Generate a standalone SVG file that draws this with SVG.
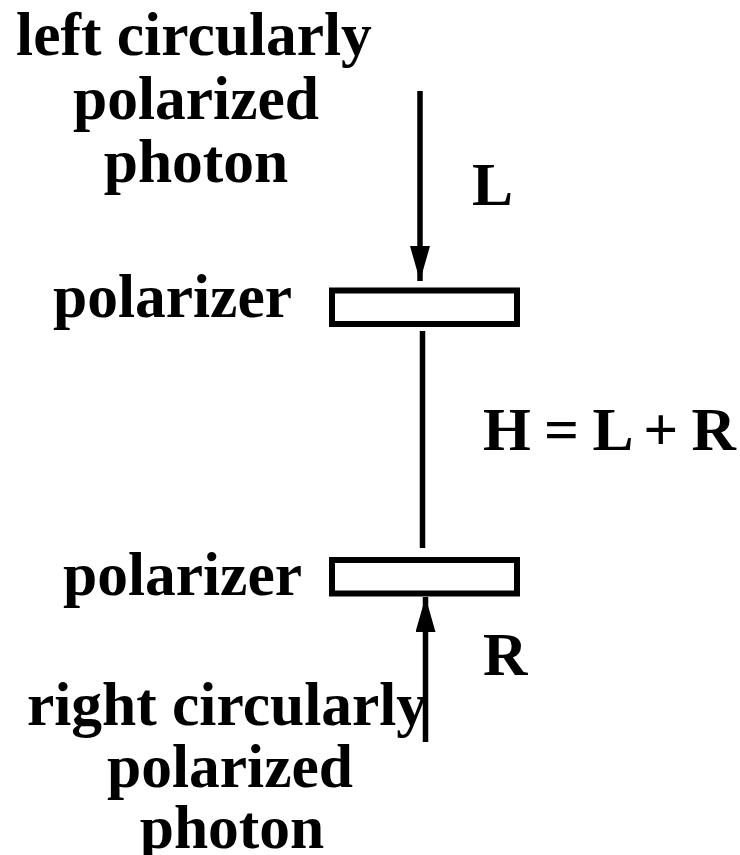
<svg xmlns="http://www.w3.org/2000/svg" width="740" height="855" viewBox="0 0 740 855">
<style>
text{font-family:"Liberation Serif","Times New Roman",serif;font-weight:bold;font-size:61.5px;fill:#000}
.c{text-anchor:middle}
.e{text-anchor:end}
.box{fill:#fff;stroke:#000;stroke-width:6}
.ln{stroke:#000;stroke-width:5.5;fill:none}
</style>
<defs>
<marker id="ah" markerUnits="userSpaceOnUse" markerWidth="36" markerHeight="20" refX="35" refY="10" orient="auto" viewBox="0 0 36 20">
<path d="M0,0 L35,10 L0,20 z" fill="#000"/>
</marker>
</defs>
<rect width="740" height="855" fill="#fff"/>
<g id="connectors">
<line class="ln" x1="420" y1="91" x2="420" y2="281" marker-end="url(#ah)"/>
<line class="ln" x1="422.5" y1="331" x2="422.5" y2="548"/>
<line class="ln" x1="425.5" y1="742" x2="425.5" y2="597" marker-end="url(#ah)"/>
</g>
<g id="left-photon">
<text class="c" x="194" y="55">left circularly</text>
<text class="c" x="196" y="119">polarized</text>
<text class="c" x="196" y="182">photon</text>
</g>
<g id="label-L"><text x="472" y="205">L</text></g>
<g id="polarizer-top">
<rect class="box" x="332" y="290.5" width="185" height="33.5"/>
<text class="e" x="292" y="317">polarizer</text>
</g>
<g id="label-H"><text x="483" y="450" textLength="253" lengthAdjust="spacing">H = L + R</text></g>
<g id="polarizer-bottom">
<rect class="box" x="332" y="560" width="185" height="33.5"/>
<text class="e" x="302" y="595">polarizer</text>
</g>
<g id="label-R"><text x="483" y="675">R</text></g>
<g id="right-photon">
<text class="c" x="227" y="725">right circularly</text>
<text class="c" x="230" y="787">polarized</text>
<text class="c" x="232" y="848">photon</text>
</g>
</svg>
